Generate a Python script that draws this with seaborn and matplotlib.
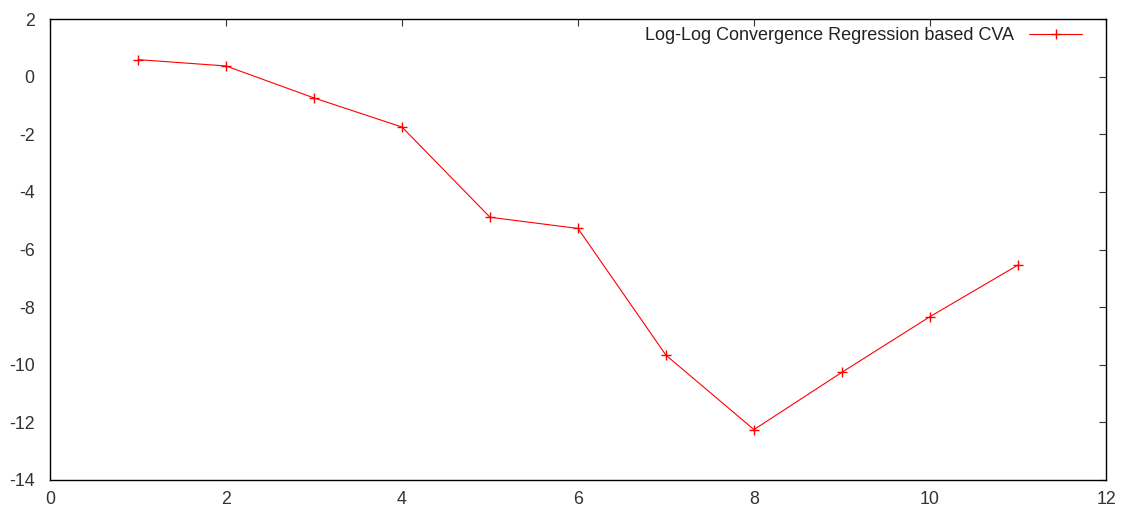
import matplotlib
matplotlib.use("Agg")
import matplotlib.pyplot as plt
import seaborn as sns
import pandas as pd

# Convergence series
levels = [1, 2, 3, 4, 5, 6, 7, 8, 9, 10, 11]
cva_values = [0.59, 0.37, -0.74, -1.75, -4.88, -5.27, -9.67, -12.25, -10.26, -8.33, -6.54]
series_label = "Log-Log Convergence Regression based CVA"

x_ticks = [0, 2, 4, 6, 8, 10, 12]
y_ticks = [2, 0, -2, -4, -6, -8, -10, -12, -14]

sns.set_theme(style="white")
plt.rcParams["font.family"] = ["Liberation Sans", "DejaVu Sans"]
plt.rcParams["axes.unicode_minus"] = False

df = pd.DataFrame({"level": levels, "cva": cva_values, "series": series_label})

fig = plt.figure(figsize=(11.24, 5.09), dpi=100)
ax = fig.add_axes([50 / 1124, 1 - 480 / 509, (1106 - 50) / 1124, (480 - 19) / 509])

sns.lineplot(data=df, x="level", y="cva", hue="series", palette=["#ff0000"],
             marker="+", markersize=7, markeredgewidth=1.0,
             markeredgecolor="#ff0000", linewidth=0.8, ax=ax)

ax.set_xlim(0, 12)
ax.set_ylim(-14, 2)
ax.set_xticks(x_ticks)
ax.set_yticks(y_ticks)
ax.set_xlabel("")
ax.set_ylabel("")

for side in ax.spines.values():
    side.set_color("black")
    side.set_linewidth(1.0)

ax.tick_params(axis="both", direction="in", length=5, width=0.8, color="#333333",
               top=True, right=True, labelsize=12.8, labelcolor="#333333")
ax.tick_params(axis="x", pad=8)
ax.tick_params(axis="y", pad=11)

leg = ax.legend(loc="upper right", frameon=False, markerfirst=False,
                handlelength=2.9, handletextpad=0.85, fontsize=13,
                borderaxespad=0.3, bbox_to_anchor=(0.989, 1.009))
for t in leg.get_texts():
    t.set_color("#222222")
for h in leg.legend_handles:
    h.set_markeredgecolor("#ff0000")

fig.savefig("out.png", dpi=100, facecolor="white")
